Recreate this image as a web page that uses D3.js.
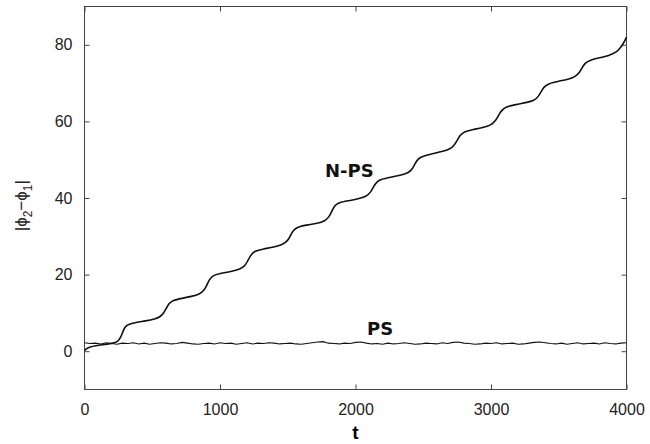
<!DOCTYPE html>
<html>
<head>
<meta charset="utf-8">
<script src="https://cdn.jsdelivr.net/npm/d3@7"></script>
<style>
  body { margin: 0; background: #fff; }
  .tick text { font-family: "Liberation Sans", Arial, sans-serif; font-size: 16px; fill: #222; }
  .tick line { stroke: #444; }
  .curve-label { font-family: "DejaVu Sans", sans-serif; font-weight: bold; font-size: 18px; fill: #111; }
</style>
</head>
<body>
<div id="chart"></div>
<script>
// N-PS curve (staircase)
var npsTimes = [0, 15, 40, 80, 130, 180, 220, 250, 270, 285, 300, 320, 380, 450, 520, 560, 585, 605, 625, 650,
  720, 790, 850, 880, 900, 920, 945, 1000, 1080, 1150, 1185, 1205, 1225, 1255, 1320, 1400, 1460, 1500, 1520, 1540,
  1575, 1650, 1720, 1770, 1805, 1825, 1845, 1875, 1950, 2020, 2080, 2110, 2130, 2155, 2190, 2260, 2330, 2390, 2420, 2440,
  2460, 2490, 2560, 2640, 2700, 2730, 2750, 2770, 2805, 2870, 2940, 3000, 3035, 3055, 3075, 3110, 3180, 3260, 3320, 3350,
  3370, 3390, 3425, 3500, 3570, 3620, 3655, 3675, 3695, 3730, 3800, 3870, 3925, 3955, 3980, 4000];
var npsValues = [0.2, 0.7, 1.1, 1.4, 1.7, 1.9, 2.2, 2.6, 3.8, 5.3, 6.4, 7.0, 7.5, 7.9, 8.4, 9.0, 10.0, 11.3, 12.5, 13.3,
  13.8, 14.3, 14.9, 15.8, 17.0, 18.6, 19.8, 20.3, 20.8, 21.4, 22.3, 23.6, 25.0, 26.2, 26.7, 27.2, 27.8, 28.8, 30.2, 31.6,
  32.5, 33.0, 33.4, 33.9, 35.0, 36.5, 38.0, 38.8, 39.3, 39.8, 40.4, 41.4, 42.8, 44.2, 44.9, 45.4, 45.9, 46.5, 47.6, 49.0,
  50.2, 50.8, 51.5, 52.1, 52.8, 53.8, 55.0, 56.4, 57.4, 57.9, 58.4, 59.0, 60.2, 61.5, 62.8, 63.8, 64.4, 64.9, 65.4, 66.5,
  67.8, 69.0, 69.9, 70.5, 71.0, 71.6, 72.8, 74.2, 75.3, 76.0, 76.6, 77.2, 78.0, 79.2, 80.5, 82.0];

// PS curve, sampled evenly over 0..4000
var psValues = [2.2, 2.0, 2.1, 1.9, 2.2, 2.0, 1.8, 2.1, 2.0, 2.2,
  1.9, 2.1, 1.8, 2.0, 2.2, 2.1, 1.9, 2.0, 2.3, 2.1,
  1.9, 1.8, 2.0, 2.1, 1.9, 2.2, 2.0, 2.1, 1.8, 2.0,
  2.2, 1.9, 2.1, 2.0, 2.2, 2.1, 1.9, 2.0, 2.1, 1.9,
  1.8, 2.0, 2.2, 2.4, 2.5, 2.1, 2.0, 1.9, 2.1, 2.0,
  2.3, 2.4, 2.1, 1.9, 2.0, 1.8, 2.1, 1.9, 2.0, 2.2,
  2.0, 1.8, 1.9, 2.1, 2.0, 1.9, 2.2, 2.0, 2.3, 2.4,
  2.1, 2.0, 1.8, 1.9, 2.1, 2.0, 2.2, 1.9, 2.0, 2.1,
  1.8, 1.9, 2.1, 2.3, 2.4, 2.2, 2.0, 1.9, 2.1, 1.8,
  2.0, 2.2, 1.9, 2.0, 2.1, 1.9, 2.2, 2.0, 1.9, 2.1,
  2.2];

var xTicks = [0, 1000, 2000, 3000, 4000];
var yTicks = [0, 20, 40, 60, 80];

var margin = { top: 6.5, right: 23.5, bottom: 54.5, left: 84.5 };
var width = 650 - margin.left - margin.right,
    height = 444 - margin.top - margin.bottom;

var svg = d3.select('#chart')
  .append('svg')
  .attr('width', 650)
  .attr('height', 444)
  .append('g')
  .attr('transform', 'translate(' + margin.left + ',' + margin.top + ')');

var x = d3.scaleLinear().domain([0, 4000]).range([0, width]);
var y = d3.scaleLinear().domain([-10, 90]).range([height, 0]);

// inward ticks on all four sides
svg.append('g')
  .attr('transform', 'translate(0,' + height + ')')
  .call(d3.axisBottom(x).tickValues(xTicks).tickSize(-5).tickPadding(14).tickFormat(d3.format('d')));
svg.append('g')
  .call(d3.axisTop(x).tickValues(xTicks).tickSize(-5).tickFormat(''));
svg.append('g')
  .call(d3.axisLeft(y).tickValues(yTicks).tickSize(-5).tickPadding(12).tickFormat(d3.format('d')));
svg.append('g')
  .attr('transform', 'translate(' + width + ',0)')
  .call(d3.axisRight(y).tickValues(yTicks).tickSize(-5).tickFormat(''));

svg.selectAll('.domain').remove();

svg.append('rect')
  .attr('width', width)
  .attr('height', height)
  .attr('fill', 'none')
  .attr('stroke', '#444')
  .attr('stroke-width', 1);

// curves
var npsData = npsTimes.map(function(t, i) { return { t: t, v: npsValues[i] }; });
var psData = psValues.map(function(v, i) { return { t: i * 4000 / (psValues.length - 1), v: v }; });

var psLine = d3.line()
  .x(function(d) { return x(d.t); })
  .y(function(d) { return y(d.v); });

var npsLine = d3.line()
  .x(function(d) { return x(d.t); })
  .y(function(d) { return y(d.v); })
  .curve(d3.curveBasis);

svg.append('path')
  .datum(psData)
  .attr('fill', 'none')
  .attr('stroke', '#111')
  .attr('stroke-width', 1.1)
  .attr('d', psLine);

svg.append('path')
  .datum(npsData)
  .attr('fill', 'none')
  .attr('stroke', '#111')
  .attr('stroke-width', 1.6)
  .attr('d', npsLine);

// curve labels
svg.append('text')
  .attr('class', 'curve-label')
  .attr('x', x(1775))
  .attr('y', y(45.5))
  .text('N-PS');

svg.append('text')
  .attr('class', 'curve-label')
  .attr('x', x(2085))
  .attr('y', y(4.2))
  .text('PS');

// axis titles
svg.append('text')
  .attr('x', width / 2)
  .attr('y', height + 49)
  .attr('text-anchor', 'middle')
  .style('font-family', '"Liberation Sans", Arial, sans-serif')
  .style('font-weight', 'bold')
  .style('font-size', '19px')
  .text('t');

var yLabel = svg.append('text')
  .attr('transform', 'translate(' + (-58) + ',' + (y(38)) + ') rotate(-90)')
  .attr('text-anchor', 'middle')
  .style('font-family', '"Liberation Sans", Arial, sans-serif')
  .style('font-size', '17px')
  .style('fill', '#222');
yLabel.append('tspan').text('|\u03d5');
yLabel.append('tspan').attr('dy', 5).style('font-size', '12px').text('2');
yLabel.append('tspan').attr('dy', -5).text('\u2212\u03d5');
yLabel.append('tspan').attr('dy', 5).style('font-size', '12px').text('1');
yLabel.append('tspan').attr('dy', -5).text('|');
</script>
</body>
</html>
